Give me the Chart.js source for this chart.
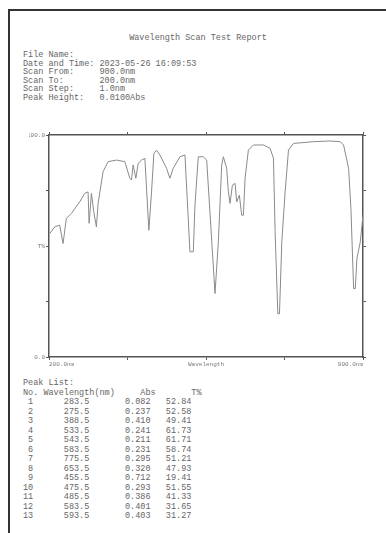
<!DOCTYPE html>
<html>
<head>
<meta charset="utf-8">
<script src="https://cdn.jsdelivr.net/npm/chart.js@4"></script>
<style>
  body { margin: 0; background: #fff; width: 386px; height: 533px; overflow: hidden; position: relative; }
  .frame { position: absolute; left: 8px; top: 9px; right: -4px; bottom: -4px; border-top: 2px solid #333; border-left: 2px solid #333; }
  pre { position: absolute; margin: 0; font-family: "Liberation Mono", "DejaVu Sans Mono", monospace; font-size: 8.5px; color: #666; }
  #title { top: 33px; left: 0; width: 396px; text-align: center; line-height: 10px; }
  #info { top: 51px; left: 23px; line-height: 8.6px; }
  #peaks { top: 379px; left: 23px; line-height: 9.5px; }
  #wrap { position: absolute; left: 0; top: 125px; width: 386px; height: 250px; }
</style>
</head>
<body>
<div class="frame"></div>
<pre id="title">Wavelength Scan Test Report</pre>
<pre id="info"></pre>
<pre id="peaks"></pre>
<div id="wrap"><canvas id="scanChart"></canvas></div>
<script>
// Datos del espectro (nm, T%)
const wavelengths = [201.5, 212.7, 223.8, 231.3, 238.7, 249.9, 268.5, 279.7, 287.1, 289.4, 294.6, 299.8, 305.7, 309.5, 320.6, 331.8, 350.4, 369.0, 380.2, 383.9, 387.6, 393.6, 398.8, 406.3, 413.7, 422.6, 428.6, 433.8, 439.8, 447.2, 462.1, 469.5, 477.0, 491.9, 503.1, 514.2, 521.7, 525.4, 532.8, 544.0, 551.5, 570.1, 577.5, 585.0, 588.7, 596.1, 599.9, 603.6, 608.8, 614.8, 618.5, 624.4, 629.6, 633.4, 637.1, 644.5, 655.7, 678.0, 692.9, 700.4, 704.1, 710.1, 713.8, 719.0, 726.4, 733.9, 745.0, 789.7, 826.9, 849.3, 856.7, 867.9, 873.1, 879.1, 882.8, 886.5, 894.0, 900.0];
const transmittance = [55.6, 58.6, 59.4, 51.1, 62.4, 64.7, 69.9, 73.7, 74.4, 60.2, 73.7, 65.4, 58.6, 69.2, 83.5, 88.0, 88.7, 88.0, 80.5, 79.7, 86.5, 80.5, 87.2, 88.7, 89.5, 57.1, 74.4, 91.7, 93.2, 91.0, 85.0, 80.5, 85.0, 90.2, 91.0, 47.4, 47.4, 68.4, 90.2, 90.2, 88.7, 28.6, 51.9, 86.5, 90.2, 85.0, 74.4, 69.2, 77.4, 78.2, 69.9, 72.9, 63.9, 63.9, 80.5, 93.2, 95.5, 95.5, 94.0, 89.5, 56.4, 19.5, 19.5, 51.9, 74.4, 93.2, 96.2, 97.0, 97.3, 97.0, 95.5, 85.0, 66.9, 30.8, 30.8, 44.4, 51.9, 63.9];

// Eje X / Y
const xMin = 200, xMax = 900, xStep = 175;
const xTickLabels = { 200: '200.0nm', 550: 'Wavelength', 900: '900.0nm' };
const yTickLabels = { 0: '0.0', 50: 'T%', 100: '100.0' };

// Cabecera del informe
const infoLabels = ['File Name:', 'Date and Time:', 'Scan From:', 'Scan To:', 'Scan Step:', 'Peak Height:'];
const infoValues = ['', '2023-05-26 16:09:53', '900.0nm', '200.0nm', '1.0nm', '0.0100Abs'];

// Lista de picos
const peakWl = ['283.5', '275.5', '388.5', '533.5', '543.5', '583.5', '775.5', '653.5', '455.5', '475.5', '485.5', '583.5', '593.5'];
const peakAbs = ['0.082', '0.237', '0.410', '0.241', '0.211', '0.231', '0.295', '0.320', '0.712', '0.293', '0.386', '0.401', '0.403'];
const peakT = ['52.84', '52.58', '49.41', '61.73', '61.71', '58.74', '51.21', '47.93', '19.41', '51.55', '41.33', '31.65', '31.27'];

document.getElementById('info').textContent =
    infoLabels.map((l, i) => (l.padEnd(15) + infoValues[i]).trimEnd()).join('\n');

let rows = ['Peak List:', 'No. Wavelength(nm)     Abs       T%'];
peakWl.forEach((w, i) => {
    rows.push(String(i + 1).padStart(2) + '      ' + w.padEnd(12) + peakAbs[i].padEnd(8) + peakT[i]);
});
document.getElementById('peaks').textContent = rows.join('\n');

const axisColor = '#555';
const tickFont = { family: 'Liberation Mono', size: 6 };

const ctx = document.getElementById('scanChart').getContext('2d');
new Chart(ctx, {
    type: 'line',
    data: {
        datasets: [{
            data: wavelengths.map((w, i) => ({ x: w, y: transmittance[i] })),
            borderColor: '#8a8a8a',
            borderWidth: 1,
            pointRadius: 0,
            tension: 0,
            fill: false
        }]
    },
    options: {
        responsive: true,
        maintainAspectRatio: false,
        animation: false,
        layout: { padding: { left: 29, right: 19, top: 6, bottom: 4 } },
        plugins: { legend: { display: false }, tooltip: { enabled: false } },
        scales: {
            x: {
                type: 'linear', min: xMin, max: xMax,
                afterFit: s => { s.height = 14; },
                border: { color: axisColor, width: 1.5 },
                grid: { drawOnChartArea: false, tickLength: 3, color: axisColor },
                ticks: {
                    stepSize: xStep, align: 'inner', maxRotation: 0, autoSkip: false,
                    color: '#777', font: tickFont, padding: 1,
                    callback: v => xTickLabels[v] || ''
                }
            },
            x2: {
                type: 'linear', position: 'top', min: xMin, max: xMax,
                afterFit: s => { s.height = 4; },
                border: { color: axisColor, width: 1.5 },
                grid: { drawOnChartArea: false, tickLength: 3, color: axisColor },
                ticks: { stepSize: xStep, display: false }
            },
            y: {
                min: 0, max: 100,
                afterFit: s => { s.width = 20; },
                border: { color: axisColor, width: 1.5 },
                grid: { drawOnChartArea: false, tickLength: 3, color: axisColor },
                ticks: {
                    stepSize: 25, color: '#777', font: tickFont, padding: 1,
                    callback: v => yTickLabels[v] || ''
                }
            },
            y2: {
                position: 'right', min: 0, max: 100,
                afterFit: s => { s.width = 4; },
                border: { color: axisColor, width: 1.5 },
                grid: { drawOnChartArea: false, tickLength: 3, color: axisColor },
                ticks: { stepSize: 25, display: false }
            }
        }
    }
});
</script>
</body>
</html>
